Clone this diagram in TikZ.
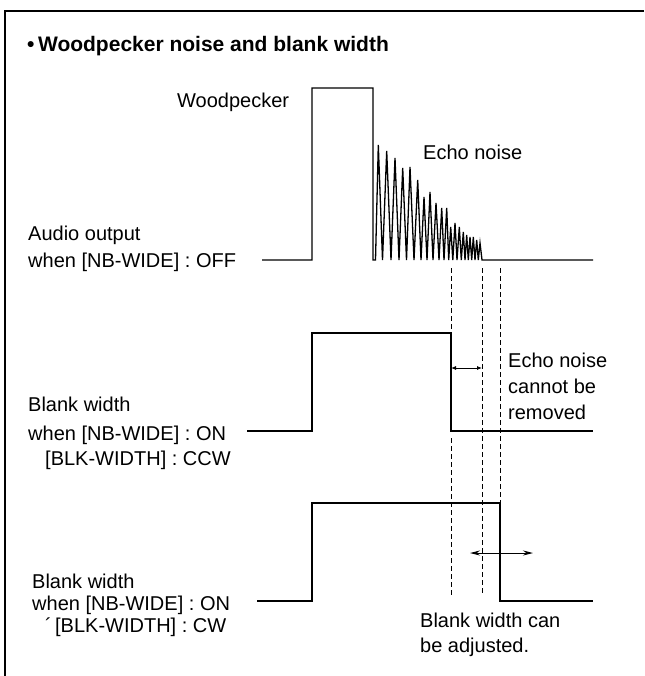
\documentclass[tikz,border=0pt]{standalone}
\usepackage{fontspec}
\setmainfont{Liberation Sans}
\usetikzlibrary{arrows.meta}
\tikzset{
  >=Latex,
  frameline/.style={line width=1.5pt},
  sig/.style={line width=1.3pt,line join=miter},
  guide/.style={line width=0.8pt,dash pattern=on 5pt off 3pt},
  lbl/.style={font=\fontsize{20}{24}\selectfont,anchor=base west,inner sep=0pt},
  heading/.style={font=\fontsize{21}{25}\selectfont\bfseries,anchor=base west,inner sep=0pt},
  gaparrow/.style={{Latex[length=5pt,width=4pt]}-{Latex[length=5pt,width=4pt]},line width=0.8pt},
  adjarrow/.style={{Stealth[length=10pt,width=5pt]}-{Stealth[length=10pt,width=5pt]},line width=1pt}
}

\begin{document}
\begin{tikzpicture}[x=1pt,y=-1pt]
  \useasboundingbox (0,0) rectangle (644,676);
  \draw[frameline] (644,11) -- (5,11) -- (5,676);
  \node[heading] (title) at (27,52) {\textbullet\,Woodpecker noise and blank width};

  \node[lbl] (wp) at (177,108) {Woodpecker};
  \node[lbl] (echo) at (423,160) {Echo noise};
  \node[lbl] (offA) at (28,240) {Audio output};
  \node[lbl] (offB) at (28,267) {when [NB-WIDE] : OFF};
  \draw[sig] (262,260) -- (312,260) -- (312,88) -- (373,88) -- (373,260)
    foreach \bx/\px/\py in {375.5/378.3/145,382.5/386.7/151,391/395/158,399/402.7/168,
      406.5/410/167,414/417.7/180,421/424/197,427/430/192,433/436/203,439/441.7/208,
      444/446.7/208,448.7/450.7/227,452.8/455/223,457/459.3/227,461.3/463.3/232,
      465/466.7/235,468.3/470/237,471.7/473.3/237,475/476.7/240,478.3/480/243}
    { -- (\bx,260) -- (\px,\py) } -- (482,260) -- (593,260);

  \node[lbl] (ccwA) at (28,411) {Blank width};
  \node[lbl] (ccwB) at (28,440) {when [NB-WIDE] : ON};
  \node[lbl] (ccwC) at (45,465) {[BLK-WIDTH] : CCW};
  \draw[sig] (247,431) -- (312,431) -- (312,333) -- (451,333) -- (451,431) -- (593,431);
  \node[lbl] (rmA) at (508,367) {Echo noise};
  \node[lbl] (rmB) at (508,393) {cannot be};
  \node[lbl] (rmC) at (508,419) {removed};

  \node[lbl] (cwA) at (32,588) {Blank width};
  \node[lbl] (cwB) at (32,610) {when [NB-WIDE] : ON};
  \node[lbl] (cwC) at (45,632) {\textasciiacute\,[BLK-WIDTH] : CW};
  \draw[sig] (257,601) -- (312,601) -- (312,503) -- (500,503) -- (500,601) -- (593,601);
  \node[lbl] (adjA) at (420,627) {Blank width can};
  \node[lbl] (adjB) at (420,652) {be adjusted.};

  \draw[guide] (451,268) -- (451,333);
  \draw[guide] (451,438) -- (451,595);
  \draw[guide] (482,268) -- (482,595);
  \draw[guide] (500,268) -- (500,503);

  \coordinate (gapL) at (451,368);
  \coordinate (gapR) at (482,368);
  \coordinate (adjL) at (470,553);
  \coordinate (adjR) at (533,553);
  \draw[gaparrow] (gapL) -- (gapR);
  \draw[adjarrow] (adjL) -- (adjR);
\end{tikzpicture}
\end{document}
